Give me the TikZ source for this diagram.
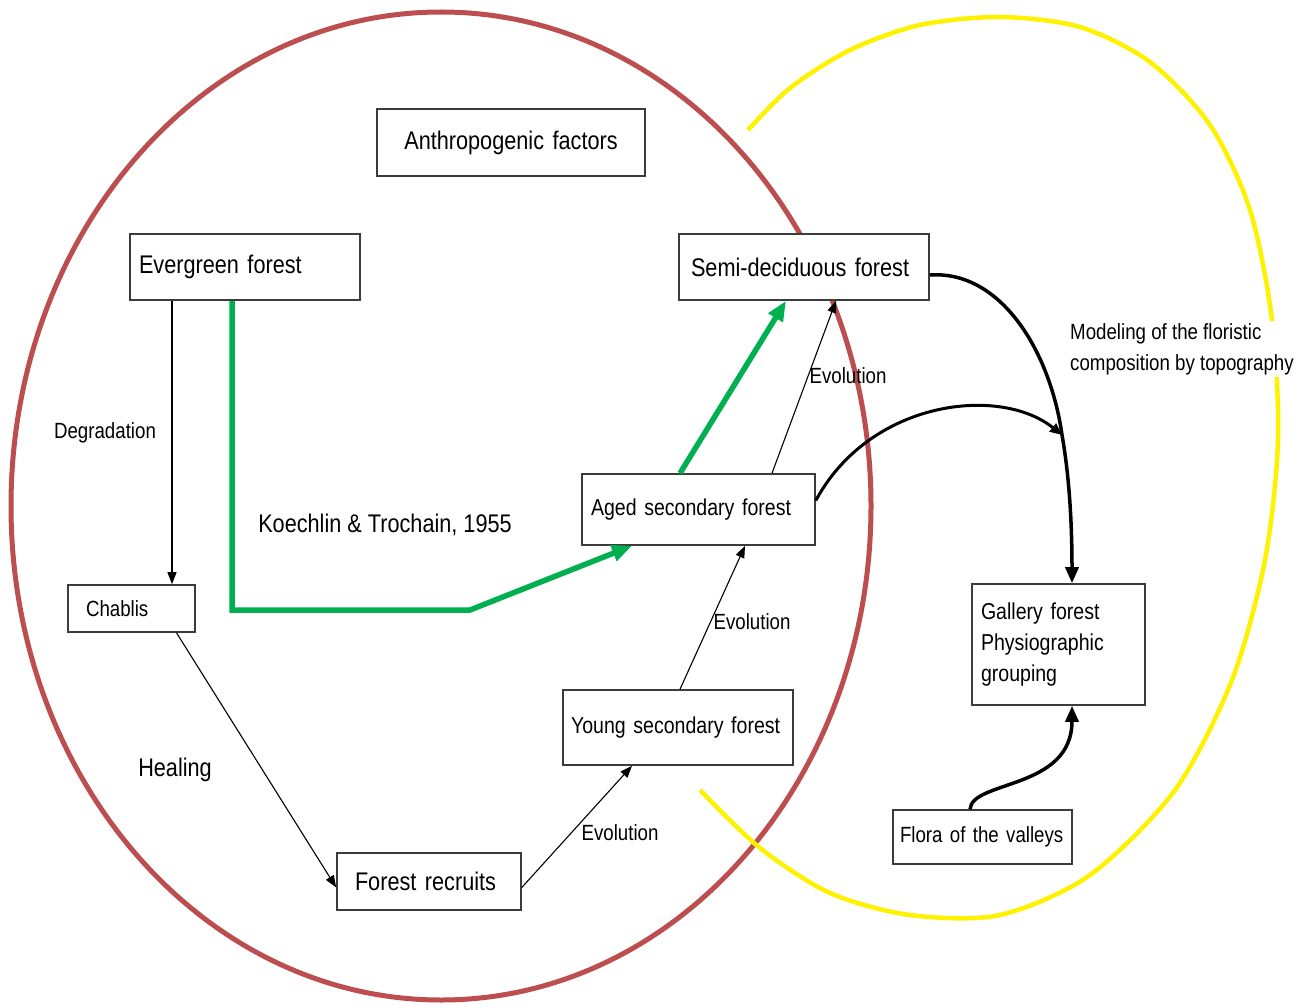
\documentclass[tikz,border=0pt]{standalone}
\usepackage{fontspec}
\newfontfamily\diagfont[FakeStretch=0.85]{Liberation Sans}
\usetikzlibrary{arrows.meta}
\definecolor{circred}{RGB}{188,78,80}
\definecolor{arrgreen}{RGB}{0,176,80}
\definecolor{boxgray}{RGB}{60,60,60}
\tikzset{
  box/.style={draw=boxgray,line width=1.6pt,fill=white,inner xsep=9pt,inner ysep=0pt,align=left},
  bigtxt/.style={font=\diagfont\fontsize{25.5}{31}\selectfont},
  midtxt/.style={font=\diagfont\fontsize{23}{31}\selectfont},
  smalltxt/.style={font=\diagfont\fontsize{22}{31}\selectfont},
  flow/.style={line width=1.1pt,-{Triangle[length=12pt,width=9pt]}},
  bigflow/.style={line width=3.5pt,-{Triangle[length=16pt,width=13pt]}},
  greenflow/.style={arrgreen,line width=5.5pt,-{Triangle[length=20pt,width=16pt]}},
}
\begin{document}
\begin{tikzpicture}[x=1pt,y=-1pt]
\useasboundingbox (0,0) rectangle (1314,1006);
% the two domains
\draw[circred,line width=5pt] (441,506) ellipse [x radius=430pt,y radius=494pt];
\draw[yellow,line width=4.5pt] plot[smooth] coordinates {(748,130) (790,88) (850,50) (920,25) (1000,17) (1080,27) (1150,62) (1210,125) (1250,210) (1272,320) (1278,440) (1265,560) (1232,680) (1175,790) (1090,875) (1000,915) (910,915) (830,893) (760,848) (700,790)};

\node[box,bigtxt,align=center,text width=250pt,minimum height=67pt] (anthro) at (511,142.5) {Anthropogenic factors};
\node[box,bigtxt,text width=212pt,minimum height=66pt] (evergreen) at (245,267) {Evergreen forest};
\node[box,bigtxt,inner xsep=12pt,text width=226pt,minimum height=66pt] (semidec) at (804,267) {Semi-deciduous forest};
\node[box,midtxt,text width=215pt,minimum height=71pt] (aged) at (698.5,509.5) {Aged secondary forest};
\node[box,smalltxt,inner xsep=18pt,text width=91pt,minimum height=47pt] (chablis) at (131.5,608.5) {Chablis};
\node[box,midtxt,inner xsep=8pt,text width=214pt,minimum height=75pt] (young) at (678,727.5) {\mbox{Young secondary forest}};
\node[box,bigtxt,inner xsep=18pt,text width=148pt,minimum height=57pt] (recruits) at (429,881.5) {Forest recruits};
\node[box,midtxt,text width=155pt,minimum height=121pt] (gallery) at (1058.5,644.5) {Gallery forest\\Physiographic\\grouping};
\node[box,smalltxt,inner xsep=7pt,text width=165pt,minimum height=54pt] (flora) at (982.5,837) {\mbox{Flora of the valleys}};

\node[smalltxt] (degr) at (105,433) {Degradation};
\node[bigtxt] (heal) at (175,770) {Healing};
\node[bigtxt] (koech) at (385,525) {Koechlin \& Trochain, 1955};
\node[smalltxt] (evo1) at (620,833) {Evolution};
\node[smalltxt] (evo2) at (752,622) {Evolution};
\node[smalltxt] (evo3) at (848,376) {Evolution};
\node[smalltxt,fill=white,align=left,anchor=west,inner sep=2pt] (model) at (1068,349) {Modeling of the floristic\\composition by topography};

% succession
\draw[flow] ([xshift=-73pt]evergreen.south) -- ([xshift=-73pt]evergreen.south |- chablis.north);
\draw[flow] ([xshift=45pt]chablis.south) -- ([yshift=-6pt]recruits.west);
\draw[flow] ([yshift=-6pt]recruits.east) -- ([xshift=-46pt]young.south);
\draw[flow] ([xshift=2pt]young.north) -- ([xshift=46.5pt]aged.south);
\draw[flow] ([xshift=73.5pt]aged.north) -- ([xshift=32pt]semidec.south);

\draw[greenflow] ([xshift=-13pt]evergreen.south) |- (470,610) -- ([xshift=-66.5pt]aged.south);
\draw[greenflow] ([xshift=-18.5pt]aged.north) -- ([xshift=-18pt]semidec.south);

% towards the gallery forest
\coordinate (join) at (1062,435);
\draw[line width=3.5pt] ([yshift=-8pt]semidec.east) .. controls (1000,270) and (1050,350) .. (join);
\draw[line width=3pt,-{Triangle[length=12pt,width=10pt]}] ([yshift=9pt]aged.east) .. controls (870,400) and (1000,385) .. (join);
\draw[bigflow] (join) .. controls (1070,480) and (1072,530) .. ([xshift=13.5pt]gallery.north);
\draw[bigflow] ([xshift=-12.5pt]flora.north) .. controls (972,780) and (1072,790) .. ([xshift=13.5pt]gallery.south);
\end{tikzpicture}
\end{document}
